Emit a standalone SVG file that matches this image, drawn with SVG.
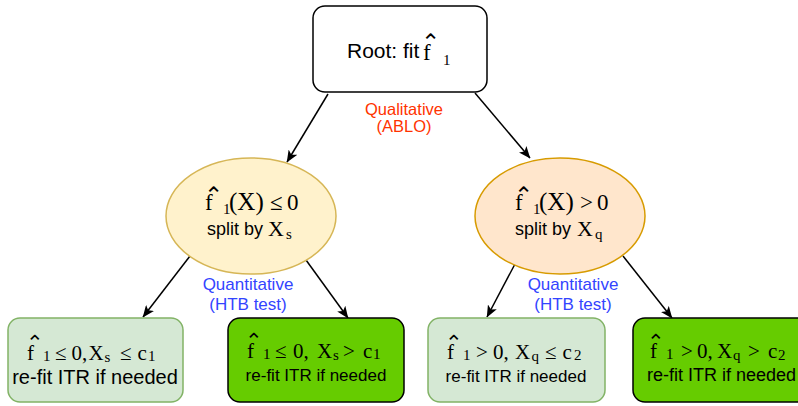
<svg xmlns="http://www.w3.org/2000/svg" width="798" height="406" viewBox="0 0 798 406">
  <defs>
    <marker id="arrow" viewBox="0 0 12 10" refX="11.5" refY="5" markerWidth="12" markerHeight="10" markerUnits="userSpaceOnUse" orient="auto">
      <path d="M0,0 L12,5 L0,10 L3,5 Z" fill="#000"/>
    </marker>
    <style>
      .sans { font-family: "Liberation Sans", Arial, sans-serif; fill: #000; }
      .m { font-family: "Liberation Serif", "DejaVu Sans", serif; font-size: 21px; fill: #000; }
      .me { font-family: "Liberation Serif", "DejaVu Sans", serif; font-size: 23px; fill: #000; }
      .sub { font-size: 15px; }
      .big { font-size: 25px; }
      .edge { fill: none; stroke: #000; stroke-width: 1.5; marker-end: url(#arrow); }
      .qual { font-family: "Liberation Sans", Arial, sans-serif; font-size: 16.5px; fill: #ff3300; text-anchor: middle; }
      .quant { font-family: "Liberation Sans", Arial, sans-serif; font-size: 17px; fill: #3344ff; text-anchor: middle; }
      .leafA { fill: #d5e8d4; stroke: #82b366; stroke-width: 1.5; }
      .leafB { fill: #66cc00; stroke: #000; stroke-width: 1.5; }
    </style>
  </defs>

  <rect width="798" height="406" fill="#fff"/>

  <!-- connectors -->
  <g id="connectors">
    <line class="edge" x1="328" y1="94" x2="287" y2="162"/>
    <line class="edge" x1="475" y1="93" x2="530" y2="158"/>
    <line class="edge" x1="190" y1="256" x2="143" y2="317"/>
    <line class="edge" x1="306" y1="260" x2="348" y2="318"/>
    <line class="edge" x1="515" y1="264" x2="487" y2="317"/>
    <line class="edge" x1="623" y1="256" x2="672" y2="318"/>
  </g>

  <!-- edge labels -->
  <g id="labels">
    <text class="qual" x="404" y="115">Qualitative</text>
    <text class="qual" x="404" y="132">(ABLO)</text>
    <text class="quant" x="248" y="290">Quantitative</text>
    <text class="quant" x="248" y="310">(HTB test)</text>
    <text class="quant" x="573" y="290">Quantitative</text>
    <text class="quant" x="573" y="310">(HTB test)</text>
  </g>

  <!-- root: f with an up-arrowhead accent set above it -->
  <g id="root">
    <rect x="313" y="6" width="174" height="86" rx="12" ry="12" fill="#fff" stroke="#000" stroke-width="1.5"/>
    <text class="sans" x="347" y="58" font-size="21">Root: fit</text>
    <text class="me"><tspan x="421 423" y="50 60">⌃f</tspan><tspan class="sub" x="443" y="65">1</tspan></text>
  </g>

  <!-- left split -->
  <g id="split-left">
    <ellipse cx="251" cy="216" rx="85" ry="58" fill="#fff2cc" stroke="#d6b656" stroke-width="1.5"/>
    <text class="me"><tspan x="204 205" y="203 210">⌃f</tspan><tspan class="sub" x="223" y="214">1</tspan><tspan class="big" x="229" y="210">(X)</tspan><tspan x="270" y="210">≤</tspan><tspan x="287" y="210">0</tspan></text>
    <text class="sans" x="207" y="235" font-size="18">split by</text>
    <text class="me"><tspan font-size="22" x="268" y="235.5">X</tspan><tspan class="sub" x="286" y="239">s</tspan></text>
  </g>

  <!-- right split -->
  <g id="split-right">
    <ellipse cx="560" cy="216" rx="85" ry="58" fill="#ffe6cc" stroke="#d79b00" stroke-width="1.5"/>
    <text class="me"><tspan x="514 515" y="203 210">⌃f</tspan><tspan class="sub" x="533" y="214">1</tspan><tspan class="big" x="539" y="210">(X)</tspan><tspan x="580" y="210">&gt;</tspan><tspan x="597" y="210">0</tspan></text>
    <text class="sans" x="515" y="235" font-size="18">split by</text>
    <text class="me"><tspan font-size="22" x="577" y="235.5">X</tspan><tspan class="sub" x="595" y="239">q</tspan></text>
  </g>

  <!-- leaf 1 -->
  <g id="leaf-1">
    <rect class="leafA" x="8" y="318" width="175" height="84" rx="12" ry="12"/>
    <text class="m"><tspan x="26 27" y="350 360">⌃f</tspan><tspan class="sub" x="43" y="361">1</tspan><tspan x="55" y="360">≤</tspan><tspan x="71.5" y="360">0,</tspan><tspan x="88.5" y="360">X</tspan><tspan class="sub" x="104.5" y="362">s</tspan><tspan x="120" y="360">≤</tspan><tspan x="137.5" y="360">c</tspan><tspan class="sub" x="148" y="361">1</tspan></text>
    <text class="sans" x="95" y="384" font-size="20" text-anchor="middle">re-fit ITR if needed</text>
  </g>

  <!-- leaf 2 -->
  <g id="leaf-2">
    <rect class="leafB" x="228" y="318" width="176" height="84" rx="12" ry="12"/>
    <text class="m"><tspan x="245 247" y="348 358">⌃f</tspan><tspan class="sub" x="263" y="359">1</tspan><tspan x="275" y="358">≤</tspan><tspan x="293" y="358">0,</tspan><tspan x="317" y="358">X</tspan><tspan class="sub" x="333" y="360">s</tspan><tspan x="343" y="358">&gt;</tspan><tspan x="363" y="358">c</tspan><tspan class="sub" x="373" y="359">1</tspan></text>
    <text class="sans" x="316" y="381" font-size="17" text-anchor="middle">re-fit ITR if needed</text>
  </g>

  <!-- leaf 3 -->
  <g id="leaf-3">
    <rect class="leafA" x="428" y="318" width="177" height="84" rx="12" ry="12"/>
    <text class="m"><tspan x="445 447" y="350 359">⌃f</tspan><tspan class="sub" x="463" y="360">1</tspan><tspan x="476" y="359">&gt;</tspan><tspan x="493" y="359">0,</tspan><tspan x="515" y="359">X</tspan><tspan class="sub" x="531.5" y="361">q</tspan><tspan x="545" y="359">≤</tspan><tspan x="562.5" y="359">c</tspan><tspan class="sub" x="574" y="360">2</tspan></text>
    <text class="sans" x="516" y="382" font-size="17" text-anchor="middle">re-fit ITR if needed</text>
  </g>

  <!-- leaf 4 -->
  <g id="leaf-4">
    <rect class="leafB" x="633" y="318" width="176" height="84" rx="12" ry="12"/>
    <text class="m"><tspan x="647 650" y="349 358">⌃f</tspan><tspan class="sub" x="666" y="359">1</tspan><tspan x="681" y="358">&gt;</tspan><tspan x="697" y="358">0,</tspan><tspan x="717" y="358">X</tspan><tspan class="sub" x="733" y="360">q</tspan><tspan x="748" y="358">&gt;</tspan><tspan x="768" y="358">c</tspan><tspan class="sub" x="778" y="360">2</tspan></text>
    <text class="sans" x="721.5" y="381" font-size="18" text-anchor="middle">re-fit ITR if needed</text>
  </g>
</svg>
